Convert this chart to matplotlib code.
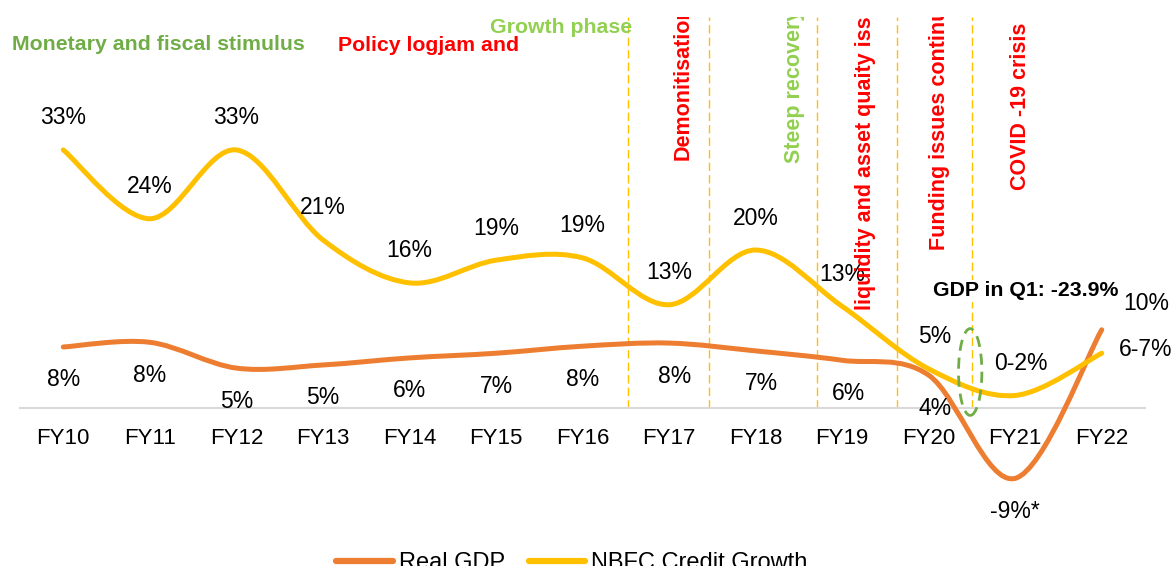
import numpy as np
import matplotlib.pyplot as plt
from matplotlib.path import Path
from matplotlib.patches import PathPatch, Ellipse
from matplotlib.lines import Line2D
from matplotlib import font_manager

years = ['FY10', 'FY11', 'FY12', 'FY13', 'FY14', 'FY15', 'FY16',
         'FY17', 'FY18', 'FY19', 'FY20', 'FY21', 'FY22']
gdp = [7.8, 8.4, 5.1, 5.5, 6.4, 7.0, 7.9, 8.3, 7.3, 6.1, 4.2, -9.0, 10.0]
gdp_labels = ['8%', '8%', '5%', '5%', '6%', '7%', '8%', '8%', '7%', '6%', '4%', '-9%*', '10%']
nbfc = [33.0, 24.2, 33.0, 21.5, 16.0, 18.9, 19.2, 13.2, 20.2, 13.0, 5.0, 1.6, 7.0]
nbfc_labels = ['33%', '24%', '33%', '21%', '16%', '19%', '19%', '13%', '20%', '13%', '5%', '0-2%', '6-7%']

# phase notes: (text, x, y, colour)
phase_top = [('Monetary and fiscal stimulus', -0.59, 46.5, '#70AD47', 'left'),
             ('Policy logjam and', 3.17, 46.3, '#FF0000', 'left'),
             ('Growth phase', 6.57, 48.6, '#92D050', 'right')]
phase_rot = [('Demonitisation', 7.16, 31.7, '#FF0000'),
             ('Steep recovery', 8.455, 31.3, '#92D050'),
             ('liquidity and asset quaity issues', 9.276, 12.5, '#FF0000'),
             ('Funding issues continue', 10.13, 20.2, '#FF0000'),
             ('COVID -19 crisis', 11.06, 27.9, '#FF0000')]
phase_lines = [6.525, 7.46, 8.71, 9.63, 10.5]

ORANGE = '#ED7D31'
YELLOW = '#FFC000'

plt.rcParams['font.family'] = ['Liberation Sans', 'DejaVu Sans']
names = {f.name for f in font_manager.fontManager.ttflist}
if 'Liberation Sans Narrow' in names:
    narrow, nsize = ['Liberation Sans Narrow', 'Liberation Sans'], 18.6
else:
    narrow, nsize = ['Liberation Sans'], 15.3


def smooth_path(ys):
    # excel style smoothed line as cubic bezier segments
    pts = np.column_stack([np.arange(len(ys)), ys]).astype(float)
    n = len(pts)
    verts = [pts[0]]
    codes = [Path.MOVETO]
    for i in range(n - 1):
        p0 = pts[max(i - 1, 0)]
        p1 = pts[i]
        p2 = pts[i + 1]
        p3 = pts[min(i + 2, n - 1)]
        verts += [p1 + (p2 - p0) / 6, p2 - (p3 - p1) / 6, p2]
        codes += [Path.CURVE4] * 3
    return Path(verts, codes)


fig = plt.figure(figsize=(11.75, 5.66), dpi=100)
ax = fig.add_axes([20 / 1175, 76 / 566, 1125 / 1175, 473 / 566])
ax.set_xlim(-0.5, 12.5)
ax.set_ylim(-10.49, 50.0)

for s in ['top', 'left', 'right']:
    ax.spines[s].set_visible(False)
ax.spines['bottom'].set_position(('data', 0))
ax.spines['bottom'].set_color('#D9D9D9')
ax.spines['bottom'].set_linewidth(1.5)
ax.set_yticks([])
ax.set_xticks(range(len(years)), years)
ax.tick_params(axis='x', length=0, pad=14.5, labelsize=16)

ax.vlines(phase_lines, 0, 50, colors=YELLOW, linestyles=(0, (6, 3)), lw=1, zorder=1)

ax.add_patch(PathPatch(smooth_path(gdp), fill=False, ec=ORANGE, lw=3.6,
                       capstyle='round', zorder=3))
ax.add_patch(PathPatch(smooth_path(nbfc), fill=False, ec=YELLOW, lw=3.6,
                       capstyle='round', zorder=3))

# data labels
for i, (v, t) in enumerate(zip(nbfc, nbfc_labels)):
    dx, dy, ha = 0, 32, 'center'
    if t == '5%' or t == '0-2%':
        dx = 6
    if i == len(nbfc) - 1:
        dx, dy, ha = 17, 4, 'left'
    ax.annotate(t, (i, v), xytext=(dx, dy), textcoords='offset pixels',
                ha=ha, va='center', fontsize=16.5, zorder=4)
for i, (v, t) in enumerate(zip(gdp, gdp_labels)):
    dx, dy, ha = 0, -33, 'center'
    if i in (7, 8, 9, 10):
        dx = 6
    if i == len(gdp) - 1:
        dx, dy, ha = 22, 26, 'left'
    ax.annotate(t, (i, v), xytext=(dx, dy), textcoords='offset pixels',
                ha=ha, va='center', fontsize=16.5, zorder=4)

for t, x, y, c, ha in phase_top:
    ax.text(x, y, t, color=c, fontsize=nsize, fontweight='bold', family=narrow,
            ha=ha, va='center', clip_on=False)
for t, x, y, c in phase_rot:
    ax.text(x, y, t, color=c, fontsize=15.5, fontweight='bold', rotation=90,
            ha='center', va='bottom', clip_on=True, zorder=5)

ax.text(10.05, 15.0, 'GDP in Q1: -23.9%', fontsize=15.3, fontweight='bold',
        ha='left', va='center', zorder=4,
        bbox=dict(fc='white', ec='none', pad=1))
ax.add_patch(Ellipse((10.48, 4.6), 0.27, 11.1, fill=False, ec='#70AD47',
                     lw=2, ls=(0, (4, 2.5)), zorder=4))

handles = [Line2D([], [], color=ORANGE, lw=4.5, solid_capstyle='round'),
           Line2D([], [], color=YELLOW, lw=4.5, solid_capstyle='round')]
fig.legend(handles, ['Real GDP', 'NBFC Credit Growth'], loc='center',
           bbox_to_anchor=(572 / 1175, 1 - 563 / 566), ncol=2, frameon=False,
           fontsize=17, handlelength=2.4, handletextpad=0.25, columnspacing=1.0)

fig.savefig('out.png', dpi=100)
